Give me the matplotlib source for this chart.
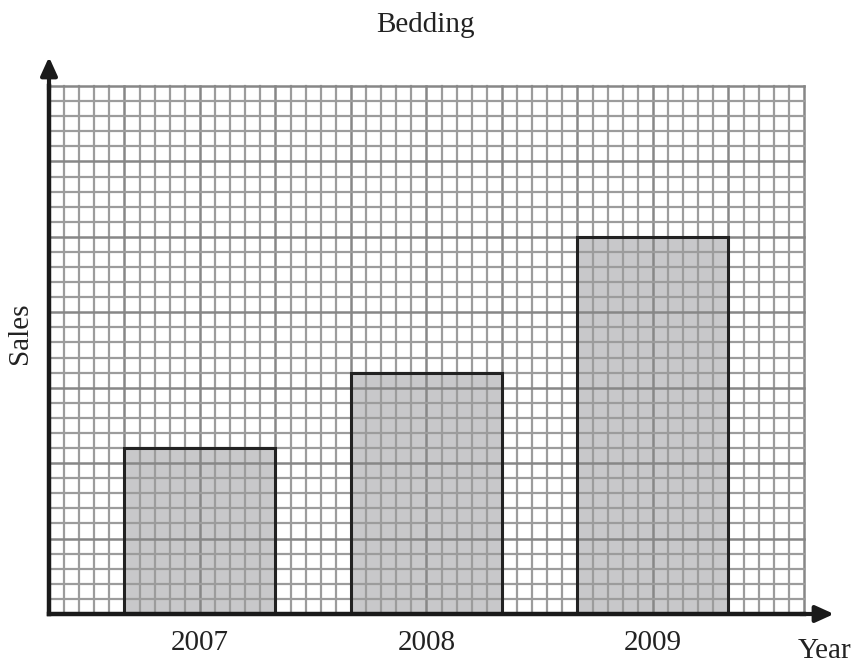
import matplotlib
matplotlib.use("Agg")
import matplotlib.pyplot as plt
import numpy as np

years = ["2007", "2008", "2009"]
sales = [11, 16, 25]
title = "Bedding"
xlabel = "Year"
ylabel = "Sales"

plt.rcParams['font.family'] = ['Liberation Serif', 'DejaVu Serif']

W, H = 854, 664
fig = plt.figure(figsize=(W / 100, H / 100), dpi=100)
ax = fig.add_axes([49 / W, 50 / H, 755 / W, 528 / H])
ax.set_xlim(0, 50)
ax.set_ylim(0, 35)

centers = [10, 25, 40]
bw = 10

# bar fill
ax.bar(centers, sales, width=bw, color="#c8c8ca", edgecolor="none", zorder=1)
# grid
for v in range(1, 51):
    major = v % 5 == 0
    ax.axvline(v, color="#878787" if major else "#9c9c9c", lw=1.8 if major else 1.6, zorder=2, clip_on=False)
for v in range(1, 36):
    major = v % 5 == 0
    ax.axhline(v, color="#878787" if major else "#9c9c9c", lw=1.8 if major else 1.6, zorder=2, clip_on=False)
# bar edges
ax.bar(centers, sales, width=bw, color="none", edgecolor="#222222", linewidth=2.2, zorder=3)

for s in ["top", "right"]:
    ax.spines[s].set_visible(False)
for s in ["left", "bottom"]:
    ax.spines[s].set_linewidth(3.2)
    ax.spines[s].set_color("#1a1a1a")
    ax.spines[s].set_zorder(5)
ax.set_xticks([])
ax.set_yticks([])

# arrows
ax.annotate("", xy=(834 / W, 1 - 614 / H), xytext=(800 / W, 1 - 614 / H), xycoords="figure fraction",
            arrowprops=dict(arrowstyle="-|>,head_length=1.1,head_width=0.5", color="#1a1a1a", lw=3, shrinkA=0, shrinkB=0))
ax.annotate("", xy=(49 / W, 1 - 57 / H), xytext=(49 / W, 1 - 90 / H), xycoords="figure fraction",
            arrowprops=dict(arrowstyle="-|>,head_length=1.1,head_width=0.5", color="#1a1a1a", lw=3, shrinkA=0, shrinkB=0))

for c, y in zip(centers, years):
    fig.text((49 + c * 15.1) / W, 1 - 643 / H, y, ha="center", va="center", fontsize=21, color="#222222")
fig.text(425 / W, 1 - 25 / H, title, ha="center", va="center", fontsize=21, color="#222222")
fig.text(851 / W, 1 - 651 / H, xlabel, ha="right", va="center", fontsize=21, color="#222222")
fig.text(20 / W, 1 - 333 / H, ylabel, ha="center", va="center", rotation=90, fontsize=21, color="#222222")

fig.savefig("out.png", dpi=100)
